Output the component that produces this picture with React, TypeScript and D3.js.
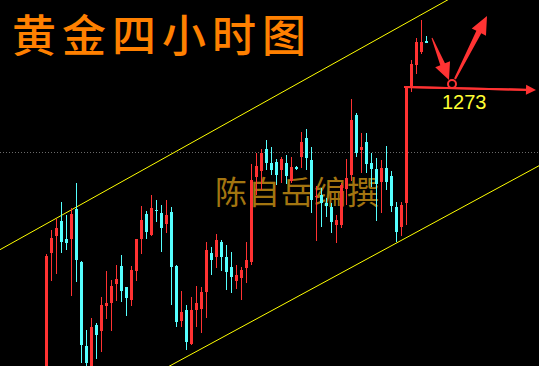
import React from 'react';
import * as d3 from 'd3';

const W = 539;
const H = 366;

// Four-hour gold bars (oldest first)
const OPEN = [
  1243.9, 1256.6, 1258.3, 1259.8, 1258.0, 1258.0, 1261.0, 1255.7, 1247.3, 1244.7,
  1249.4, 1248.8, 1251.3, 1251.6, 1253.5, 1255.3, 1253.2, 1251.9, 1254.8, 1258.0,
  1260.5, 1258.4, 1260.9, 1260.6, 1259.5, 1260.7, 1255.3, 1249.8, 1250.9, 1247.5,
  1250.9, 1251.0, 1252.7, 1256.6, 1256.2, 1257.7, 1256.2, 1255.2, 1253.8, 1254.1,
  1255.1, 1255.7, 1264.2, 1264.8, 1267.0, 1265.6, 1265.7, 1264.9, 1265.6, 1263.8,
  1265.2, 1266.2, 1268.1, 1265.9, 1262.2, 1262.4, 1261.6, 1261.2, 1259.4, 1259.4,
  1263.0, 1264.4, 1270.4, 1266.9, 1267.7, 1265.6, 1265.0, 1263.7, 1265.1, 1264.3,
  1261.2, 1259.2, 1261.6, 1273.3, 1275.4, 1276.7, 1277.8,
];
const HIGH = [
  1256.5, 1258.9, 1260.0, 1261.7, 1260.4, 1261.1, 1263.6, 1255.8, 1248.9, 1250.1,
  1249.6, 1252.2, 1254.8, 1253.9, 1255.4, 1256.4, 1253.2, 1255.3, 1258.0, 1261.3,
  1260.8, 1262.4, 1261.9, 1261.4, 1261.9, 1261.2, 1255.4, 1252.8, 1251.4, 1252.2,
  1253.3, 1253.2, 1257.7, 1257.2, 1258.5, 1257.9, 1257.4, 1256.7, 1255.4, 1255.2,
  1257.7, 1265.5, 1266.6, 1267.0, 1267.9, 1267.2, 1266.0, 1266.2, 1266.4, 1266.2,
  1265.3, 1268.7, 1269.0, 1267.2, 1263.3, 1263.1, 1262.1, 1261.6, 1260.4, 1263.6,
  1266.0, 1272.0, 1270.6, 1268.6, 1268.6, 1266.6, 1266.1, 1265.9, 1267.3, 1264.8,
  1261.7, 1261.7, 1273.3, 1275.9, 1278.1, 1279.9, 1278.3,
];
const LOW = [
  1243.5, 1253.8, 1254.5, 1256.6, 1256.9, 1252.3, 1253.7, 1245.6, 1244.9, 1244.3,
  1246.0, 1246.7, 1250.0, 1248.8, 1251.8, 1251.7, 1250.3, 1251.3, 1253.8, 1256.5,
  1258.0, 1258.3, 1259.7, 1256.7, 1258.6, 1251.4, 1249.2, 1249.2, 1246.9, 1247.4,
  1249.2, 1248.6, 1250.1, 1254.4, 1255.1, 1254.8, 1252.9, 1252.6, 1253.0, 1251.9,
  1253.6, 1255.4, 1262.4, 1262.9, 1264.9, 1264.4, 1263.4, 1263.6, 1263.5, 1263.6,
  1264.9, 1265.1, 1264.9, 1260.6, 1257.8, 1259.2, 1260.2, 1258.6, 1257.6, 1259.1,
  1261.4, 1263.8, 1266.2, 1264.6, 1264.6, 1263.2, 1259.8, 1260.6, 1262.9, 1260.7,
  1257.7, 1258.3, 1259.4, 1272.7, 1274.5, 1276.5, 1277.6,
];
const CLOSE = [
  1256.3, 1258.1, 1259.1, 1257.7, 1257.6, 1260.5, 1255.9, 1247.4, 1245.6, 1249.2,
  1248.4, 1251.4, 1251.6, 1253.3, 1254.0, 1252.8, 1252.1, 1254.9, 1258.0, 1259.9,
  1258.7, 1261.1, 1260.8, 1259.1, 1260.4, 1255.2, 1249.7, 1250.7, 1247.7, 1250.9,
  1251.6, 1252.7, 1256.9, 1255.9, 1257.9, 1256.2, 1254.7, 1254.2, 1254.4, 1254.9,
  1255.9, 1263.9, 1265.3, 1266.6, 1265.6, 1264.9, 1264.4, 1266.0, 1264.3, 1265.2,
  1265.0, 1267.7, 1266.1, 1261.9, 1262.3, 1261.6, 1261.3, 1259.7, 1259.9, 1263.4,
  1264.1, 1269.9, 1266.6, 1267.2, 1265.5, 1265.0, 1263.5, 1265.1, 1263.7, 1261.3,
  1258.7, 1261.4, 1273.2, 1275.5, 1277.7, 1277.7, 1277.6,
];

const TITLE = '黄金四小时图';
const SIGNATURE = '陈自岳编撰';
const TARGET_LABEL = '1273';
const TARGET_PRICE = 1273;

// Trend channel anchors: [bar index, price]
const UPPER_CHANNEL: [number, number][] = [[0, 1259.5], [76, 1280.7]];
const LOWER_CHANNEL: [number, number][] = [[0, 1238.6], [76, 1259.2]];
const MID_LEVEL = 1266.7;

// Hand-drawn forecast annotation, in [bar index, price]
const TARGET_LINE: [number, number][] = [[72, 1273.2], [98, 1272.9]];
const TARGET_RING: [number, number] = [81.2, 1273.5];
const ARROW_DOWN: [number, number][] = [[77.2, 1278.1], [80.6, 1273.9]];
const ARROW_UP: [number, number][] = [[81.8, 1274.0], [88.2, 1280.3]];

const UP_COLOR = '#ff3232';
const DOWN_COLOR = '#55ffff';
const MARK_COLOR = '#ff3333';

function arrowPath(
  p0: [number, number],
  p1: [number, number],
  tailW: number,
  shaftW: number,
  headLen: number,
  headHalf: number
) {
  const dx = p1[0] - p0[0];
  const dy = p1[1] - p0[1];
  const len = Math.hypot(dx, dy);
  const ux = dx / len;
  const uy = dy / len;
  const nx = -uy;
  const ny = ux;
  const bx = p1[0] - ux * headLen;
  const by = p1[1] - uy * headLen;
  const pts: [number, number][] = [
    [p0[0] + (nx * tailW) / 2, p0[1] + (ny * tailW) / 2],
    [bx + (nx * shaftW) / 2, by + (ny * shaftW) / 2],
    [bx + nx * headHalf, by + ny * headHalf],
    [p1[0], p1[1]],
    [bx - nx * headHalf, by - ny * headHalf],
    [bx - (nx * shaftW) / 2, by - (ny * shaftW) / 2],
    [p0[0] - (nx * tailW) / 2, p0[1] - (ny * tailW) / 2],
  ];
  return d3.line()(pts) + 'Z';
}

export default function App() {
  const n = OPEN.length;
  const x = d3.scaleLinear().domain([0, n - 1]).range([46, 426]);
  const y = d3.scaleLinear().domain([1281.9, 1245.3]).range([0, H]);

  const channel = (anchors: [number, number][]) => {
    const price = d3
      .scaleLinear()
      .domain([anchors[0][0], anchors[1][0]])
      .range([anchors[0][1], anchors[1][1]]);
    const i0 = x.invert(0);
    const i1 = x.invert(W);
    return { x1: 0, y1: y(price(i0)), x2: W, y2: y(price(i1)) };
  };
  const upper = channel(UPPER_CHANNEL);
  const lower = channel(LOWER_CHANNEL);

  const pt = (d: [number, number]): [number, number] => [x(d[0]), y(d[1])];

  const tl0 = pt(TARGET_LINE[0]);
  const tl1 = pt(TARGET_LINE[1]);
  const ring = pt(TARGET_RING);

  return (
    <svg
      width={W}
      height={H}
      style={{ position: 'absolute', left: 0, top: 0, display: 'block' }}
    >
      <rect width={W} height={H} fill="#000" />

      <line
        x1={0}
        x2={W}
        y1={Math.round(y(MID_LEVEL)) + 0.5}
        y2={Math.round(y(MID_LEVEL)) + 0.5}
        stroke="#6a6a6a"
        strokeDasharray="1,2"
        strokeWidth={1}
      />

      <line {...upper} stroke="#ffff00" strokeWidth={1} />
      <line {...lower} stroke="#ffff00" strokeWidth={1} />

      <text
        x={215}
        y={204}
        fontSize={32}
        fontFamily="'Noto Sans CJK SC', sans-serif"
        fill="#a37510"
        letterSpacing={1}
      >
        {SIGNATURE}
      </text>

      <g shapeRendering="crispEdges">
        {OPEN.map((o, i) => {
          const c = CLOSE[i];
          const cx = Math.round(x(i));
          const up = c >= o;
          const color = up ? UP_COLOR : DOWN_COLOR;
          const top = Math.round(y(Math.max(o, c)));
          const bot = Math.round(y(Math.min(o, c)));
          const hi = Math.round(y(HIGH[i]));
          const lo = Math.round(y(LOW[i]));
          return (
            <g key={i}>
              <rect x={cx} y={hi} width={1} height={Math.max(1, lo - hi)} fill={color} />
              <rect
                x={cx - 1}
                y={top}
                width={3}
                height={Math.max(1, bot - top)}
                fill={color}
              />
            </g>
          );
        })}
      </g>

      {/* forecast annotation */}
      <line
        x1={tl0[0] - 2}
        y1={tl0[1]}
        x2={tl1[0] - 8}
        y2={tl1[1]}
        stroke={MARK_COLOR}
        strokeWidth={2}
      />
      <path d={arrowPath(tl0, tl1, 2, 2, 10, 5)} fill={MARK_COLOR} />
      <path d={arrowPath(pt(ARROW_DOWN[0]), pt(ARROW_DOWN[1]), 1, 5, 17, 8)} fill={MARK_COLOR} />
      <path d={arrowPath(pt(ARROW_UP[0]), pt(ARROW_UP[1]), 2, 5.5, 18, 8)} fill={MARK_COLOR} />
      <circle cx={ring[0]} cy={ring[1]} r={4} fill="none" stroke={MARK_COLOR} strokeWidth={2} />

      <text
        x={ring[0] - 10}
        y={y(TARGET_PRICE) + 20}
        fontSize={20}
        fontFamily="'Liberation Sans', Arial, sans-serif"
        fill="#ffff33"
      >
        {TARGET_LABEL}
      </text>

      <text
        x={12}
        y={52}
        fontSize={44}
        fontWeight={500}
        fontFamily="'Noto Sans CJK SC', sans-serif"
        fill="#ff8000"
        letterSpacing={6}
      >
        {TITLE}
      </text>
    </svg>
  );
}
